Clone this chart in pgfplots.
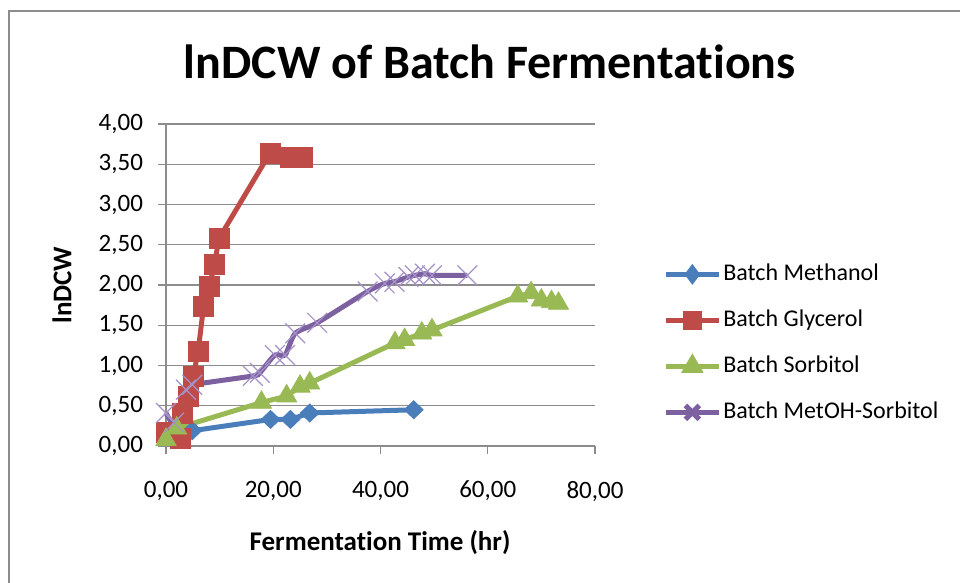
\documentclass[border=0pt]{standalone}
\usepackage{pgfplots}
\pgfplotsset{compat=1.18}
\usepackage{fontspec}
\setmainfont{Carlito}[Ligatures=NoCommon]
\definecolor{cBlue}{HTML}{4A7EBB}
\definecolor{cRed}{HTML}{BE4B48}
\definecolor{cGreen}{HTML}{98B954}
\definecolor{cPurple}{HTML}{7D60A0}
\definecolor{cPurpleM}{HTML}{A592C8}
\definecolor{cGrid}{HTML}{8C8C8C}
\begin{document}
\begin{tikzpicture}
\useasboundingbox (0,0) rectangle (480pt,291.5pt);
\draw[cGrid, line width=1pt] (4.5pt,-5pt) -- (4.5pt,286pt) -- (485pt,286pt);
\begin{axis}[
  at={(83pt,68.5pt)}, anchor=south west,
  scale only axis, width=214.5pt, height=161pt,
  xmin=0, xmax=80, ymin=0, ymax=4,
  xtick={0,20,40,60,80},
  ytick={0,0.5,1,1.5,2,2.5,3,3.5,4},
  axis lines*=left,
  axis line style={cGrid, line width=0.6pt},
  tick align=outside, major tick length=4pt,
  tick style={cGrid, line width=0.6pt},
  ymajorgrids, grid style={cGrid, line width=0.6pt},
  /pgf/number format/assume math mode=true,
  /pgf/number format/.cd, use comma, fixed, fixed zerofill, precision=2, /pgfplots/.cd,
  ticklabel style={font=\fontsize{12.5}{14}\selectfont},
  yticklabel style={xshift=-4pt},
  xticklabel style={yshift=-10pt},
  title={lnDCW of Batch Fermentations},
  title style={font=\fontsize{24}{28}\selectfont\bfseries, at={(rel axis cs:0.755,1.156)}, anchor=center},
  xlabel={Fermentation Time (hr)},
  xlabel style={font=\fontsize{13.5}{16}\selectfont\bfseries, at={(rel axis cs:0.499,-0.301)}, anchor=center},
  ylabel={lnDCW},
  ylabel style={font=\fontsize{13.5}{16}\selectfont\bfseries, at={(rel axis cs:-0.2424,0.5)}, anchor=center},
  legend cell align=left,
  legend style={at={(rel axis cs:1.1445,0.587)}, anchor=north west, draw=none, fill=none,
    font=\fontsize{12}{14}\selectfont,
    nodes={text height=8.5pt, text depth=2.5pt, inner sep=1pt}, row sep=10pt},
  legend image code/.code={\draw[mark repeat=2, mark phase=2, mark options={scale=0.7}] plot coordinates {(0pt,0pt) (13.25pt,0pt) (26.5pt,0pt)};},
  clip=false,
]
\addplot[cBlue, line width=2.5pt, mark=diamond*, mark size=4.5pt, mark options={solid, line width=0.4pt, xscale=1.4}]
 coordinates {(1.0,0.10) (4.9,0.19) (19.5,0.33) (23.2,0.33) (26.8,0.41) (46.2,0.45)};
\addlegendentry{Batch Methanol}
\addplot[cRed, line width=2.5pt, mark=square*, mark size=5pt, mark options={solid, line width=0.4pt}]
 coordinates {(0,0.17) (2.7,0.10) (3.0,0.41) (4.2,0.62) (5.1,0.87) (6.0,1.18) (7.0,1.73) (8.1,1.98) (9.0,2.25) (9.9,2.58) (19.4,3.64) (23.2,3.59) (25.4,3.59)};
\addlegendentry{Batch Glycerol}
\addplot[cGreen, line width=2.5pt, mark=triangle*, mark size=5.8pt, mark options={solid, line width=0.4pt}]
 coordinates {(0,0.08) (2.0,0.22) (17.8,0.54) (22.5,0.62) (25.0,0.74) (26.8,0.78) (42.7,1.28) (44.5,1.32) (47.7,1.40) (49.6,1.44) (65.6,1.86) (68.1,1.90) (70.0,1.81) (71.9,1.79) (73.2,1.77)};
\addlegendentry{Batch Sorbitol}
\addplot[cPurple, line width=2.5pt, smooth, tension=0.4, mark=x, mark size=7pt, mark options={solid, draw=cPurpleM, line width=0.6pt}]
 coordinates {(0,0.41) (1.5,0.29) (3.7,0.70) (4.9,0.76) (16.2,0.87) (17.5,0.91) (20.3,1.13) (22.2,1.13) (24.1,1.40) (28.2,1.53) (37.6,1.92) (40.8,2.02) (42.6,2.04) (45.2,2.10) (46.4,2.12) (48.3,2.14) (49.6,2.12) (56.2,2.12)};
\addlegendentry{Batch MetOH-Sorbitol}
\end{axis}
\end{tikzpicture}
\end{document}
